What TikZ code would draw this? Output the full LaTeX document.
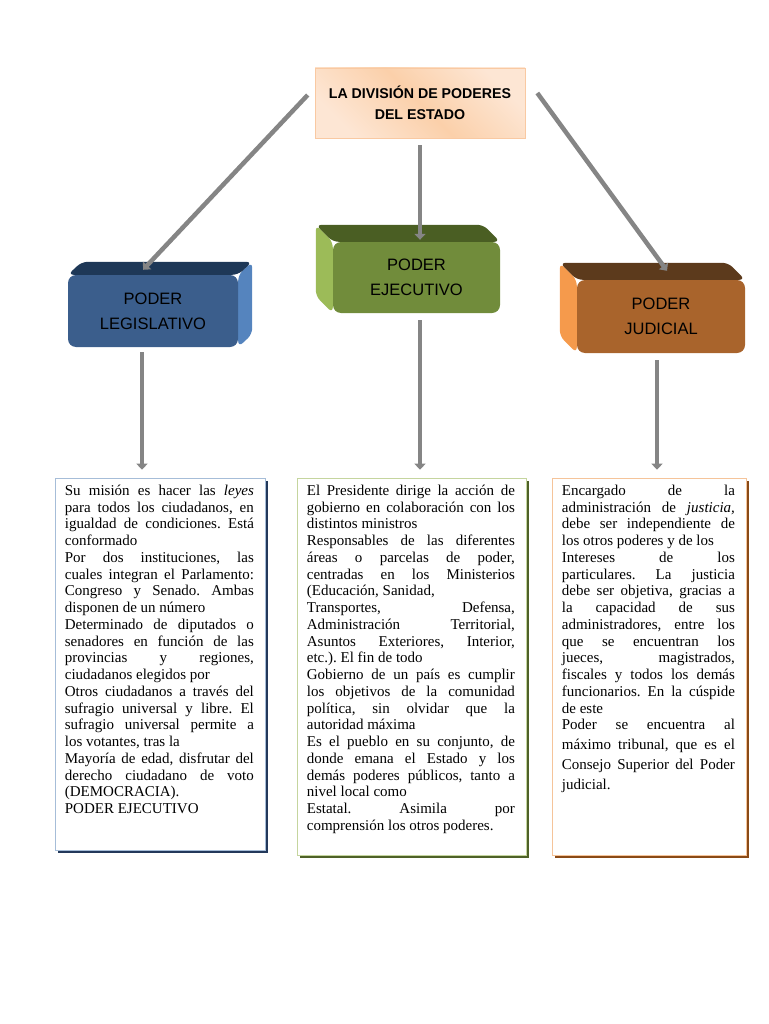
\documentclass[tikz,border=0pt]{standalone}
\usepackage{fontspec}
\setmainfont{Liberation Serif}
\setsansfont{Liberation Sans}
\usepackage{xcolor}
\usepackage{tikz}
\usetikzlibrary{arrows.meta,positioning,calc,shadows,backgrounds}
\definecolor{arrowgray}{HTML}{858585}
\definecolor{peach}{HTML}{FBD0AA}
\definecolor{peachlight}{HTML}{FDE6D4}
\definecolor{peachline}{HTML}{F9C9A2}
\definecolor{legfront}{HTML}{3B5E8C}
\definecolor{legtop}{HTML}{1E3857}
\definecolor{legside}{HTML}{5584BE}
\definecolor{ejefront}{HTML}{718C3B}
\definecolor{ejetop}{HTML}{4A5E23}
\definecolor{ejeside}{HTML}{9CBB58}
\definecolor{judfront}{HTML}{A9642C}
\definecolor{judtop}{HTML}{5C3A1C}
\definecolor{judside}{HTML}{F59A4C}
\definecolor{legline}{HTML}{A6BDD8}
\definecolor{legshadow}{HTML}{23395B}
\definecolor{ejeline}{HTML}{C5D59E}
\definecolor{ejeshadow}{HTML}{4E6128}
\definecolor{judline}{HTML}{F5C49A}
\definecolor{judshadow}{HTML}{8A4A16}
\setlength{\parindent}{0pt}
\frenchspacing
\hbadness=10000
\tikzset{
  titlebox/.style={
    draw=peachline,line width=.6pt,left color=peachlight,right color=peachlight,
    middle color=peach,shading angle=135,
    minimum width=210pt,minimum height=70pt,align=center,
    font=\sffamily\bfseries\fontsize{14.2}{21}\selectfont
  },
  face/.style={
    rounded corners=8pt,align=center,text=black,
    font=\sffamily\fontsize{16.5}{25}\selectfont
  },
  txtbox/.style={
    rectangle,fill=white,line width=.6pt
  },
  txt/.style={
    anchor=north west,inner sep=0pt,align=justify,
    font=\fontsize{15}{16.75}\selectfont
  },
  arrow/.style={-{Triangle[length=6pt,width=11pt]},draw=arrowgray,line width=4.5pt}
}
\begin{document}
\begin{tikzpicture}[x=1pt,y=1pt]
\useasboundingbox (0,0) rectangle (768,-1024);

\node[titlebox] (title) at (420,-103) {LA DIVISIÓN DE PODERES\\DEL ESTADO};

% three powers
\node[face,fill=legfront,minimum width=170pt,minimum height=72pt] (leg) at (153,-311)
{PODER\\LEGISLATIVO};
\node[face,fill=ejefront,minimum width=167pt,minimum height=71pt] (eje) at (416.5,-277.5)
{PODER\\EJECUTIVO};
\node[face,fill=judfront,minimum width=168pt,minimum height=73pt] (jud) at (661,-316.5)
{PODER\\JUDICIAL};

\begin{scope}[on background layer,rounded corners=6pt]
\fill[legside] (leg.north east) -- ([shift={(14,13)}]leg.north east)
  -- ([shift={(14,13)}]leg.south east) -- (leg.south east) -- cycle;
\fill[legtop] (leg.north west) -- ([shift={(14,13)}]leg.north west)
  -- ([shift={(14,13)}]leg.north east) -- (leg.north east) -- cycle;
\fill[ejeside] (eje.north west) -- ([shift={(-17,17)}]eje.north west)
  -- ([shift={(-17,17)}]eje.south west) -- (eje.south west) -- cycle;
\fill[ejetop] (eje.north west) -- ([shift={(-17,17)}]eje.north west)
  -- ([shift={(-17,17)}]eje.north east) -- (eje.north east) -- cycle;
\fill[judside] (jud.north west) -- ([shift={(-17,17)}]jud.north west)
  -- ([shift={(-17,17)}]jud.south west) -- (jud.south west) -- cycle;
\fill[judtop] (jud.north west) -- ([shift={(-17,17)}]jud.north west)
  -- ([shift={(-17,17)}]jud.north east) -- (jud.north east) -- cycle;
\end{scope}

% text boxes
\node[txtbox,draw=legline,minimum width=210pt,minimum height=372pt,
  drop shadow={fill=legshadow,opacity=1,shadow xshift=2.5pt,shadow yshift=-2.5pt}]
  (legtxt) at (160,-664) {};
\node[txtbox,draw=ejeline,minimum width=229pt,minimum height=377pt,
  drop shadow={fill=ejeshadow,opacity=1,shadow xshift=2.5pt,shadow yshift=-2.5pt}]
  (ejetxt) at (411.5,-666.5) {};
\node[txtbox,draw=judline,minimum width=194pt,minimum height=377pt,
  drop shadow={fill=judshadow,opacity=1,shadow xshift=2.5pt,shadow yshift=-2.5pt}]
  (judtxt) at (649,-666.5) {};

\node[txt,text width=189pt] (legbody) at ([shift={(10,-7)}]legtxt.north west) {%
Su misión es hacer las \textit{leyes}\linebreak
para todos los ciudadanos, en\linebreak
igualdad de condiciones. Está\linebreak
conformado\\
Por dos instituciones, las\linebreak
cuales integran el Parlamento:\linebreak
Congreso y Senado. Ambas\linebreak
disponen de un número\\
Determinado de diputados o\linebreak
senadores en función de las\linebreak
provincias y regiones,\linebreak
ciudadanos elegidos por\\
Otros ciudadanos a través del\linebreak
sufragio universal y libre. El\linebreak
sufragio universal permite a\linebreak
los votantes, tras la\\
Mayoría de edad, disfrutar del\linebreak
derecho ciudadano de voto\linebreak
(DEMOCRACIA).\\
PODER EJECUTIVO};

\node[txt,text width=208pt] (ejebody) at ([shift={(10,-7)}]ejetxt.north west) {%
El Presidente dirige la acción de\linebreak
gobierno en colaboración con los\linebreak
distintos ministros\\
Responsables de las diferentes\linebreak
áreas o parcelas de poder,\linebreak
centradas en los Ministerios\linebreak
(Educación, Sanidad,\\
Transportes, Defensa,\linebreak
Administración Territorial,\linebreak
Asuntos Exteriores, Interior,\linebreak
etc.). El fin de todo\\
Gobierno de un país es cumplir\linebreak
los objetivos de la comunidad\linebreak
política, sin olvidar que la\linebreak
autoridad máxima\\
Es el pueblo en su conjunto, de\linebreak
donde emana el Estado y los\linebreak
demás poderes públicos, tanto a\linebreak
nivel local como\\
Estatal. Asimila por\linebreak
comprensión los otros poderes.};

\node[txt,text width=173pt] (judbody) at ([shift={(10,-7)}]judtxt.north west) {%
Encargado de la\linebreak
administración de \textit{justicia,}\linebreak
debe ser independiente de\linebreak
los otros poderes y de los\\
Intereses de los\linebreak
particulares. La justicia\linebreak
debe ser objetiva, gracias a\linebreak
la capacidad de sus\linebreak
administradores, entre los\linebreak
que se encuentran los\linebreak
jueces, magistrados,\linebreak
fiscales y todos los demás\linebreak
funcionarios. En la cúspide\linebreak
de este\\
Poder se encuentra al{\parfillskip=0pt\par}
\baselineskip=20pt
máximo tribunal, que es el\linebreak
Consejo Superior del Poder\linebreak
judicial.\par};

% arrows
\draw[arrow] ([shift={(-7,8)}]title.west) -- ([shift={(-10,5)}]leg.north);
\draw[arrow] ([shift={(0,-7)}]title.south) -- ([shift={(3.5,2)}]eje.north);
\draw[arrow] ([shift={(12,10)}]title.east) -- ([shift={(6,9)}]jud.north);
\draw[arrow] ([shift={(-11,-5)}]leg.south) -- ([shift={(-18,8)}]legtxt.north);
\draw[arrow] ([shift={(3.5,-7)}]eje.south) -- ([shift={(8.5,8)}]ejetxt.north);
\draw[arrow] ([shift={(-4,-7)}]jud.south) -- ([shift={(8,8)}]judtxt.north);
\end{tikzpicture}
\end{document}
